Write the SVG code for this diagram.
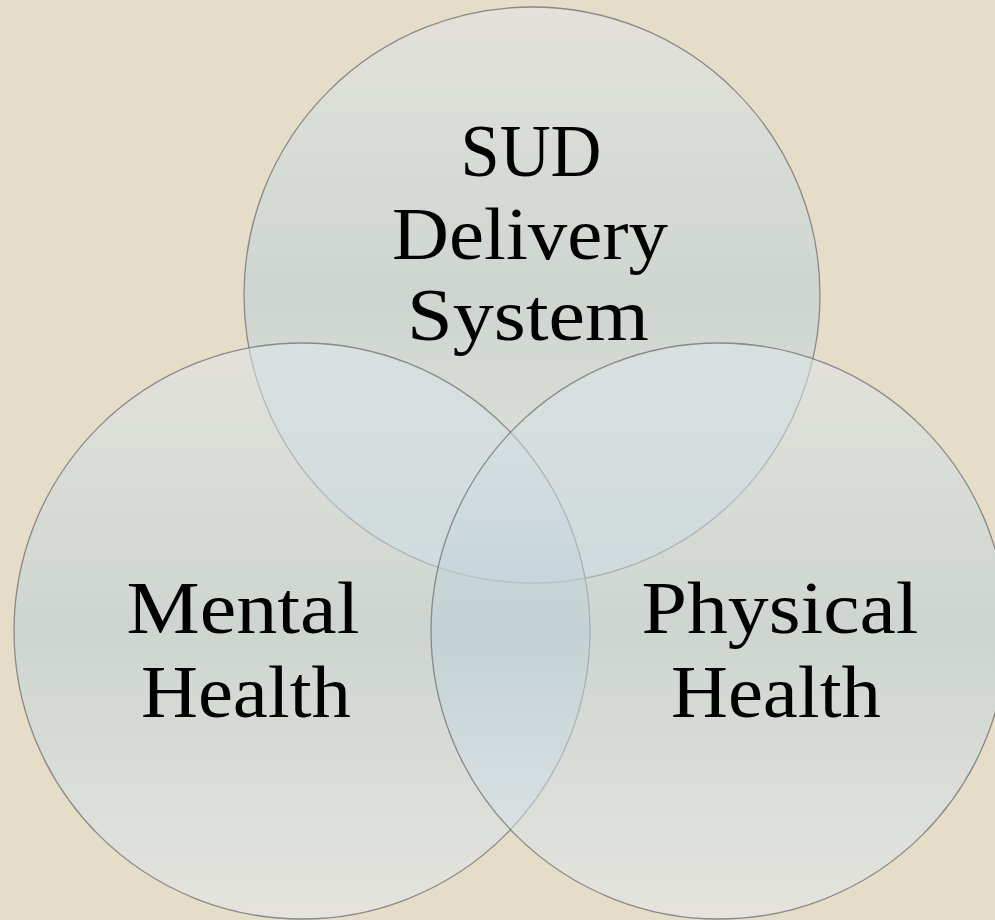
<svg xmlns="http://www.w3.org/2000/svg" width="995" height="920" viewBox="0 0 995 920">
<style>
.c{fill:url(#g);fill-opacity:0.55;stroke:#7a7a7a;stroke-opacity:0.85;stroke-width:1.3}
.t{font-family:"Liberation Serif","Times New Roman",serif;font-size:75px;fill:#000;text-anchor:middle}
</style>
<defs>
<linearGradient id="g" x1="0" y1="0" x2="0" y2="1">
<stop offset="0" stop-color="#dfe6ea"/>
<stop offset="0.5" stop-color="#bacfd7"/>
<stop offset="1" stop-color="#e3e9f0"/>
</linearGradient>
</defs>
<rect width="995" height="920" fill="#e6ddc8"/>
<g id="sud"><circle class="c" cx="532" cy="295" r="288"/></g>
<g id="mental"><circle class="c" cx="302" cy="631" r="288"/></g>
<g id="physical"><circle class="c" cx="719" cy="631" r="288"/></g>
<g id="labels">
<text class="t" x="531" y="176" textLength="141" lengthAdjust="spacingAndGlyphs">SUD</text>
<text class="t" x="530" y="259" textLength="276" lengthAdjust="spacingAndGlyphs">Delivery</text>
<text class="t" x="528" y="340" textLength="242" lengthAdjust="spacingAndGlyphs">System</text>
<text class="t" x="243" y="633" textLength="233" lengthAdjust="spacingAndGlyphs">Mental</text>
<text class="t" x="246" y="717" textLength="210" lengthAdjust="spacingAndGlyphs">Health</text>
<text class="t" x="780" y="633" textLength="277" lengthAdjust="spacingAndGlyphs">Physical</text>
<text class="t" x="776" y="717" textLength="210" lengthAdjust="spacingAndGlyphs">Health</text>
</g>
</svg>
